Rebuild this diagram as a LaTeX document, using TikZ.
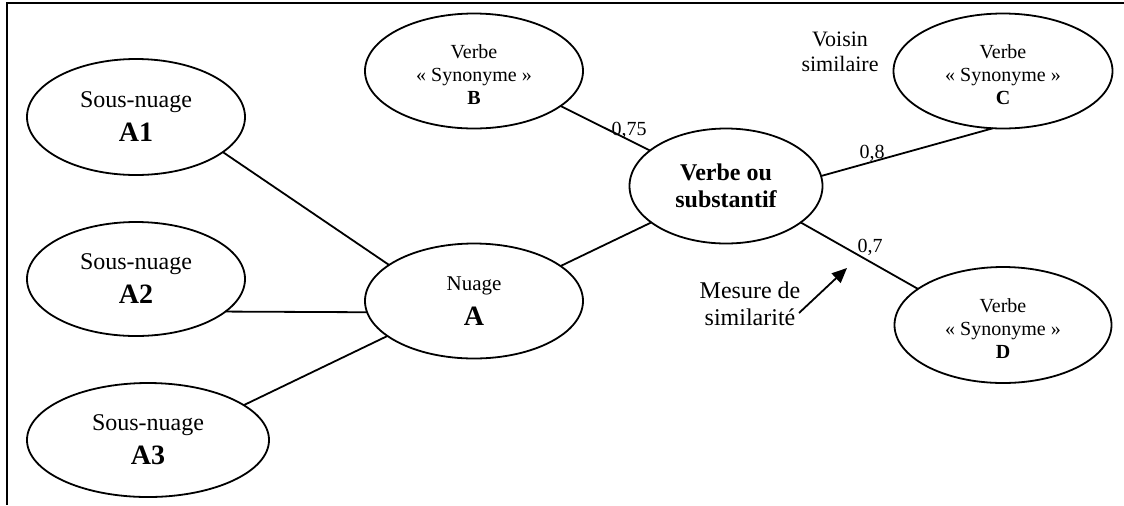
\documentclass[tikz,border=0pt]{standalone}
\usepackage{fontspec}
\setmainfont{Liberation Serif}
\usetikzlibrary{arrows.meta,shapes.geometric}
\newcommand{\topstrut}{\rule{0pt}{10.5pt}}
\begin{document}
\begin{tikzpicture}[x=0.5pt,y=-0.5pt,
  ell/.style={draw,line width=0.9pt,ellipse,inner sep=0pt,outer sep=0pt,align=center},
  link/.style={line width=0.9pt},
  lbl/.style={inner sep=0pt,font=\fontsize{10}{12}\selectfont,anchor=base},
  note/.style={inner sep=0pt,align=center}]
\useasboundingbox (0,0) rectangle (1124,505);
\draw[line width=1.2pt] (1124,3) -- (7,3) -- (7,505);

\node[ell,minimum width=109pt,minimum height=58pt,font=\fontsize{12}{17}\selectfont] (A1) at (136,117) {Sous-nuage\\{\fontsize{14}{14}\selectfont\bfseries A1}};
\node[ell,minimum width=109pt,minimum height=57pt,font=\fontsize{12}{17}\selectfont] (A2) at (136,279) {Sous-nuage\\{\fontsize{14}{14}\selectfont\bfseries A2}};
\node[ell,minimum width=121pt,minimum height=57pt,font=\fontsize{12}{17}\selectfont] (A3) at (148,440) {Sous-nuage\\{\fontsize{14}{14}\selectfont\bfseries A3}};
\node[ell,minimum width=109pt,minimum height=57.5pt,font=\fontsize{10.5}{17.5}\selectfont] (NA) at (474,301) {Nuage\\{\fontsize{14}{14}\selectfont\bfseries A}};
\node[ell,minimum width=109pt,minimum height=57.5pt,font=\fontsize{10}{11.5}\selectfont] (B) at (474,71) {\topstrut Verbe\\«~Synonyme~»\\\textbf{B}};
\node[ell,minimum width=96.5pt,minimum height=57.5pt,font=\fontsize{12}{13.5}\selectfont\bfseries] (VS) at (726,186) {Verbe ou\\substantif};
\node[ell,minimum width=109.5pt,minimum height=57.5pt,font=\fontsize{10}{11.5}\selectfont] (C) at (1003,71) {\topstrut Verbe\\«~Synonyme~»\\\textbf{C}};
\node[ell,minimum width=108.5pt,minimum height=58pt,font=\fontsize{10}{11.5}\selectfont] (D) at (1003,325) {\topstrut Verbe\\«~Synonyme~»\\\textbf{D}};

\draw[link] (A1.-22.7) -- (NA.157.9);
\draw[link] (A2.-20.9) -- (NA.186.3);
\draw[link] (A3.20.2) -- (NA.202.7);
\draw[link] (NA.22.4) -- (VS.206.3);
\draw[link] (B.-22.6) -- (VS.155);
\draw[link] (VS.6.5) -- (C.260);
\draw[link] (VS.-26.3) -- (D.157);

\node[lbl] (l75) at (629,135) {0,75};
\node[lbl] (l8) at (872,158) {0,8};
\node[lbl] (l7) at (870,252) {0,7};

\node[note,font=\fontsize{11}{12.5}\selectfont] (vois) at (840,52) {Voisin\\similaire};
\node[note,font=\fontsize{12}{13.5}\selectfont] (mes) at (750,304) {Mesure de\\similarité};
\coordinate (ms) at (799,313);
\coordinate (mt) at (847,268);
\draw[line width=0.9pt,-{Triangle[length=7.5pt,width=6.5pt]}] (ms) -- (mt);
\end{tikzpicture}
\end{document}
